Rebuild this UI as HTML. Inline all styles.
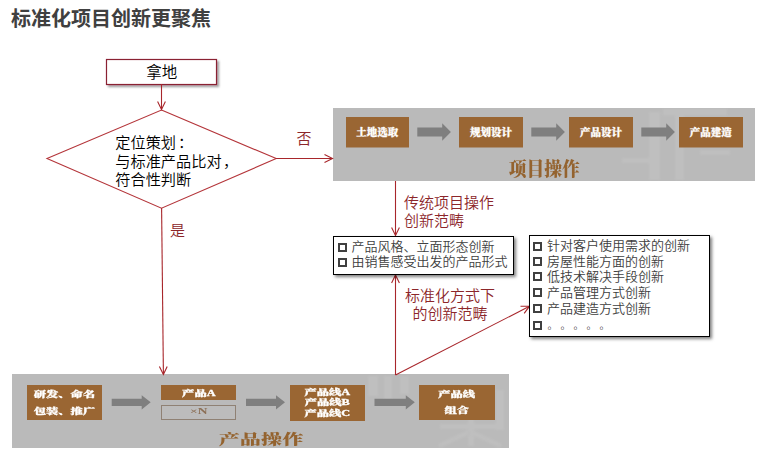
<!DOCTYPE html>
<html lang="zh-CN">
<head>
<meta charset="utf-8">
<title>标准化项目创新更聚焦</title>
<style>
html,body{margin:0;padding:0;background:#fff;}
body{width:762px;height:460px;position:relative;overflow:hidden;font-family:"Liberation Sans","Noto Sans CJK SC",sans-serif;text-spacing-trim:space-all;}
.abs{position:absolute;}
.title{left:11px;top:3.5px;font-size:20px;line-height:30px;font-weight:bold;color:#404040;white-space:nowrap;}
.panel{background:#bababa;}
.bb{background:#9a6633;color:#fff;font-family:"Liberation Serif","Noto Serif CJK SC",serif;font-weight:900;font-size:10.5px;text-align:center;white-space:nowrap;-webkit-text-stroke:0.3px #fff;}
.bb span{display:block;transform-origin:50% 50%;}
.w span{transform:scaleX(1.5);}
.ptitle{font-family:"Liberation Serif","Noto Serif CJK SC",serif;font-weight:900;color:#94632f;white-space:nowrap;}
.red{color:#8c262a;font-weight:350;font-size:15px;line-height:18px;white-space:nowrap;}
.blk{color:#000;font-weight:350;font-size:15.200px;line-height:18.500px;white-space:nowrap;}
.box{border:1px solid #000;background:#fff;box-shadow:2px 2px 3px rgba(0,0,0,.5);box-sizing:border-box;}
.li{position:absolute;color:#404040;font-weight:350;font-size:13px;line-height:16px;height:16px;white-space:nowrap;}
.sq{display:inline-block;width:5px;height:5px;border:2px solid #404040;margin-right:5px;vertical-align:-0.500px;}
svg{position:absolute;left:0;top:0;}
</style>
</head>
<body>
<div class="abs title">标准化项目创新更聚焦</div>

<!-- panels -->
<div class="abs panel" style="left:333px;top:108px;width:422px;height:72.700px;"></div>
<div class="abs panel" style="left:12px;top:374.400px;width:496.500px;height:73.400px;"></div>

<svg width="762" height="460" viewBox="0 0 762 460">
  <defs>
    <filter id="bl" x="-5%" y="-5%" width="110%" height="110%"><feGaussianBlur stdDeviation="0.8"/></filter>
    <filter id="sh" x="-10%" y="-20%" width="130%" height="160%">
      <feDropShadow dx="2" dy="2" stdDeviation="1.3" flood-color="#000" flood-opacity="0.38"/>
    </filter>
  </defs>
  <!-- faint watermark texture -->
  <g fill="#fff" opacity="0.07" filter="url(#bl)">
    <rect x="649" y="112" width="11" height="68"/>
    <rect x="675" y="110" width="9" height="70"/>
    <rect x="622" y="158" width="38" height="5"/>
    <rect x="663" y="108.500" width="64" height="7"/>
    <rect x="700" y="150" width="30" height="5"/>
    <rect x="368" y="376" width="10" height="20"/>
    <rect x="384" y="376" width="8" height="24"/>
    <rect x="400" y="376" width="9" height="18"/>
    <path d="M440 424h60v5h-60z M468 418h6v28h-6z M472 430l30 14l-2 4l-30 -14z M468 430l-30 14l2 4l30 -14z"/>
    <rect x="496" y="390" width="8" height="40"/>
  </g>
  <!-- start box -->
  <rect x="106.500" y="59.500" width="110" height="25" fill="#fff" stroke="#8a2233" stroke-width="1.2" filter="url(#sh)"/>
  <!-- diamond -->
  <polygon points="161.500,110 276.200,158.600 161.500,208.200 47,158.600" fill="#fff" stroke="#b4353a" stroke-width="1.1"/>
  <g fill="none" stroke="#a8262b" stroke-width="1.1">
    <path d="M161.500 84V109"/><path d="M157.600 101.500L161.500 109.500L165.400 101.500"/>
    <path d="M276 158.500H332"/><path d="M324.500 154.600L332.500 158.500L324.500 162.400"/>
    <path d="M161.600 208L163.400 374"/><path d="M159.400 366.500L163.400 374.500L167.200 366.400"/>
    <path d="M395.500 181V235"/><path d="M391.600 227.500L395.500 235.500L399.400 227.500"/>
    <path d="M395.500 375V275"/><path d="M391.600 283L395.500 275L399.400 283"/>
    <path d="M395.500 375L529 306.500"/><path d="M520.500 306.200L529.500 306.200L524.200 313.400"/>
  </g>
  <!-- gray arrows -->
  <g fill="#7f7f7f">
    <path d="M417.300 127.400h24.900v-4.100l8.700 8.700l-8.700 8.700v-4.100h-24.900z"/>
    <path d="M531.300 127.400h24.900v-4.100l8.700 8.700l-8.700 8.700v-4.100h-24.900z"/>
    <path d="M641.300 127.400h24.900v-4.100l8.700 8.700l-8.700 8.700v-4.100h-24.900z"/>
    <path d="M111.700 398.700h30v-3.500l9 7.100l-9 7.100v-3.500h-30z"/>
    <path d="M246 398.700h30v-3.500l9 7.100l-9 7.100v-3.500h-30z"/>
    <path d="M374.500 398.700h31.300v-3.500l9 7.100l-9 7.100v-3.500h-31.300z"/>
  </g>
</svg>

<div class="abs blk" style="left:106px;top:59.500px;width:111.500px;height:25px;line-height:25px;text-align:center;font-size:15.500px;">拿地</div>
<div class="abs blk" style="left:115.300px;top:134px;">定位策划<span style="margin-left:2px;">：</span><br>与标准产品比对<span style="margin-left:1.500px;">，</span><br>符合性判断</div>
<div class="abs red" style="left:296.500px;top:129.500px;">否</div>
<div class="abs red" style="left:170px;top:221.500px;">是</div>
<div class="abs red" style="left:404px;top:193.500px;">传统项目操作<br>创新范畴</div>
<div class="abs red" style="left:404.500px;top:286.500px;width:91px;text-align:center;">标准化方式下<br>的创新范畴</div>

<!-- top panel boxes -->
<div class="abs bb" style="left:345.500px;top:117px;width:63.500px;height:30px;line-height:32.400px;box-shadow:0 1px 0 rgba(154,102,51,.5);"><span>土地选取</span></div>
<div class="abs bb" style="left:459px;top:117px;width:64px;height:30px;line-height:32.400px;box-shadow:0 1px 0 rgba(154,102,51,.5);"><span>规划设计</span></div>
<div class="abs bb" style="left:569px;top:117px;width:64px;height:30px;line-height:32.400px;box-shadow:0 1px 0 rgba(154,102,51,.5);"><span>产品设计</span></div>
<div class="abs bb" style="left:678.700px;top:117px;width:64px;height:30px;line-height:32.400px;box-shadow:0 1px 0 rgba(154,102,51,.5);"><span>产品建造</span></div>
<div class="abs ptitle" style="left:508.700px;top:155.500px;font-size:17.800px;line-height:28px;transform:scaleY(1.07);transform-origin:50% 82%;">项目操作</div>

<!-- bottom panel boxes -->
<div class="abs bb w" style="left:26.700px;top:384.500px;width:75px;height:35.500px;line-height:16.200px;font-size:8.200px;padding-top:2.800px;box-sizing:border-box;"><span>研发、命名</span><span>包装、推广</span></div>
<div class="abs bb w" style="left:160.800px;top:384.700px;width:75.700px;height:15.600px;line-height:17px;font-size:8.200px;"><span>产品A</span></div>
<div class="abs bb w" style="left:160.800px;top:405.300px;width:75.700px;height:15.200px;line-height:11.500px;font-size:9px;background:#bcbcbc;border:1px solid #8f8174;box-sizing:border-box;color:#8c6f55;-webkit-text-stroke:0;"><span>×N</span></div>
<div class="abs bb w" style="left:290.400px;top:384.800px;width:74.600px;height:35.800px;line-height:10.300px;font-size:8.200px;padding-top:3.200px;box-sizing:border-box;"><span>产品线A</span><span>产品线B</span><span>产品线C</span></div>
<div class="abs bb w" style="left:419px;top:384.800px;width:75.500px;height:35.200px;line-height:16.400px;font-size:8.200px;padding-top:2px;box-sizing:border-box;"><span>产品线</span><span>组合</span></div>
<div class="abs ptitle" style="left:219px;top:427.300px;width:84px;height:26px;font-size:14px;line-height:26px;text-align:center;"><span style="display:inline-block;transform:scaleX(1.51);transform-origin:50% 50%;">产品操作</span></div>

<!-- list boxes -->
<div class="abs box" style="left:332.500px;top:235.500px;width:181.500px;height:39px;"></div>
<div class="li" style="left:337.500px;top:239px;"><span class="sq"></span>产品风格、立面形态创新</div>
<div class="li" style="left:337.500px;top:254px;"><span class="sq"></span>由销售感受出发的产品形式</div>

<div class="abs box" style="left:529px;top:235px;width:181px;height:102px;"></div>
<div class="li" style="left:533px;top:238.400px;"><span class="sq"></span>针对客户使用需求的创新</div>
<div class="li" style="left:533px;top:253.600px;"><span class="sq"></span>房屋性能方面的创新</div>
<div class="li" style="left:533px;top:268.800px;"><span class="sq"></span>低技术解决手段创新</div>
<div class="li" style="left:533px;top:284.600px;"><span class="sq"></span>产品管理方式创新</div>
<div class="li" style="left:533px;top:300.800px;"><span class="sq"></span>产品建造方式创新</div>
<div class="li" style="left:533px;top:317.100px;"><span class="sq"></span><span style="font-size:10px;letter-spacing:3px;margin-left:0.600px;">。。。。。</span></div>
</body>
</html>
